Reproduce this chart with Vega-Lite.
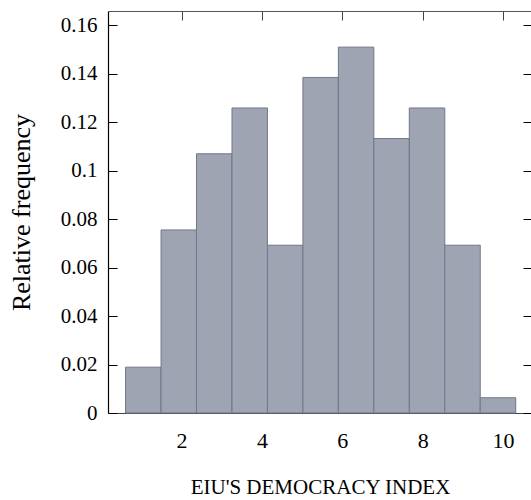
{
  "$schema": "https://vega.github.io/schema/vega-lite/v6.json",
  "width": 424,
  "height": 402,
  "autosize": "none",
  "padding": {"left": 108, "top": 11, "right": 0, "bottom": 87},
  "config": {"view": {"stroke": null}, "font": "Liberation Serif", "axis": {"grid": false}},
  "data": {"values": [
    {"bin_start": 0.607, "bin_end": 1.490, "freq": 0.0189},
    {"bin_start": 1.490, "bin_end": 2.372, "freq": 0.0755},
    {"bin_start": 2.372, "bin_end": 3.255, "freq": 0.1069},
    {"bin_start": 3.255, "bin_end": 4.137, "freq": 0.1258},
    {"bin_start": 4.137, "bin_end": 5.020, "freq": 0.0692},
    {"bin_start": 5.020, "bin_end": 5.902, "freq": 0.1384},
    {"bin_start": 5.902, "bin_end": 6.785, "freq": 0.1509},
    {"bin_start": 6.785, "bin_end": 7.667, "freq": 0.1132},
    {"bin_start": 7.667, "bin_end": 8.550, "freq": 0.1258},
    {"bin_start": 8.550, "bin_end": 9.432, "freq": 0.0692},
    {"bin_start": 9.432, "bin_end": 10.315, "freq": 0.0063}
  ]},
  "layer": [
    {
      "mark": {"type": "bar", "fill": "#9fa4b3", "stroke": "#717789", "strokeWidth": 1},
      "encoding": {
        "x": {"field": "bin_start", "type": "quantitative",
          "scale": {"domain": [0.17, 10.72], "nice": false, "zero": false},
          "axis": {"orient": "bottom", "values": [2, 4, 6, 8, 10], "title": "EIU'S DEMOCRACY INDEX",
            "titleFont": "Liberation Serif", "titleFontSize": 21, "titleFontWeight": "normal", "titleColor": "#000",
            "titlePadding": 25, "labelFont": "Liberation Serif", "labelFontSize": 22, "labelColor": "#000",
            "labelPadding": 26, "tickSize": -9, "tickColor": "#000", "domainColor": "#444", "domainWidth": 1.2}},
        "x2": {"field": "bin_end"},
        "y": {"field": "freq", "type": "quantitative",
          "scale": {"domain": [0, 0.1658], "nice": false},
          "axis": {"orient": "left", "values": [0, 0.02, 0.04, 0.06, 0.08, 0.1, 0.12, 0.14, 0.16], "format": "~g",
            "title": "Relative frequency", "titleFont": "Liberation Serif", "titleFontSize": 26, "titleFontWeight": "normal",
            "titleColor": "#000", "titlePadding": 26, "labelFont": "Liberation Serif", "labelFontSize": 21,
            "labelColor": "#000", "labelPadding": 20, "tickSize": -9, "tickColor": "#000", "domainColor": "#000", "domainWidth": 1.2}},
        "y2": {"datum": 0}
      }
    },
    {
      "mark": {"type": "bar", "opacity": 0},
      "encoding": {
        "x": {"field": "bin_start", "type": "quantitative",
          "scale": {"domain": [0.17, 10.72], "nice": false, "zero": false},
          "axis": {"orient": "top", "values": [2, 4, 6, 8, 10], "title": null, "labels": false,
            "tickSize": -9, "tickColor": "#444", "domainColor": "#555", "domainWidth": 1.2}},
        "x2": {"field": "bin_end"},
        "y": {"field": "freq", "type": "quantitative",
          "scale": {"domain": [0, 0.1658], "nice": false},
          "axis": {"orient": "right", "values": [0, 0.02, 0.04, 0.06, 0.08, 0.1, 0.12, 0.14, 0.16], "title": null,
            "labels": false, "tickSize": -9, "tickColor": "#000", "domainColor": "#000"}},
        "y2": {"datum": 0}
      }
    }
  ],
  "resolve": {"axis": {"x": "independent", "y": "independent"}}
}
